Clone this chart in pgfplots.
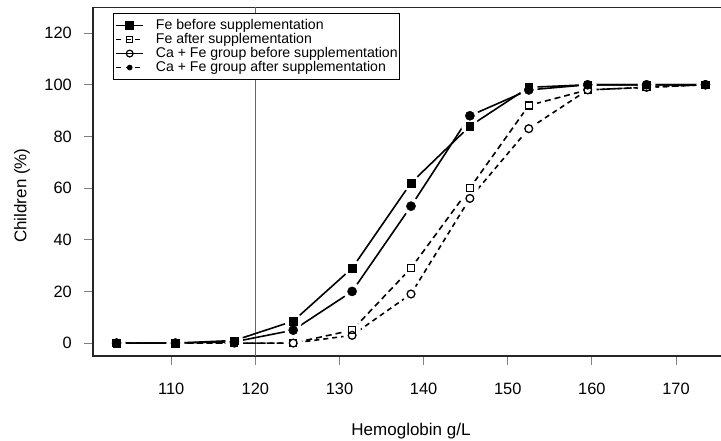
\documentclass[border=0pt]{standalone}
\usepackage{fontspec}
\setmainfont{Liberation Sans}
\usepackage{pgfplots}
\usepackage{pgfplotstable}
\pgfplotsset{compat=1.18}

% cumulative share of children below each haemoglobin level (%)
\pgfplotstableread{
x     febefore cafebefore feafter cafeafter
103.5 0        0          0       0
110.5 0        0          0       0
117.5 1        0.5        0       0
124.5 8.5      5          0       0
131.5 29       20         5       3
138.5 62       53         29      19
145.5 84       88         60      56
152.5 99       98         92      83
159.5 100      100        98      98
166.5 100      100        99      99
173.5 100      100        100     100
}\data

\begin{document}
\begin{tikzpicture}
\begin{axis}[
    name=ax,
    scale only axis,
    width=636pt, height=348.75pt,
    xmin=100.7, xmax=176.3,
    ymin=-5, ymax=130,
    xtick={110,120,...,170},
    ytick={0,20,...,120},
    tick pos=left,
    tick align=outside,
    major tick length=9pt,
    tick style={black!50, line width=1pt},
    axis line style={black!85, line width=1.2pt},
    clip=false,
    /pgf/number format/assume math mode=true,
    ticklabel style={font=\fontsize{16.4}{19}\selectfont, inner sep=0pt},
    xticklabel style={anchor=north, yshift=-18pt},
    yticklabel style={anchor=east, xshift=-12pt},
    xlabel={Hemoglobin g/L},
    ylabel={Children (\%)},
    every axis x label/.style={at={(axis description cs:0.5,0)}, anchor=base, yshift=-79pt,
        font=\fontsize{17}{20}\selectfont},
    every axis y label/.style={at={(axis description cs:0,0.46)}, xshift=-71pt, rotate=90, anchor=center,
        font=\fontsize{17}{20}\selectfont},
    legend cell align=left,
    legend image code/.code={
        \draw[#1] (0pt,0pt) -- (27pt,0pt);
        \draw[#1] plot coordinates {(13.5pt,0pt)};
    },
    legend style={
        at={(axis description cs:0,1)}, anchor=north west,
        xshift=20pt, yshift=-5.8pt,
        draw=black, line width=1pt,
        inner xsep=2pt, inner ysep=5pt,
        column sep=12pt, row sep=0pt,
        font=\fontsize{14.1}{14}\selectfont,
        nodes={inner sep=0pt, text height=10.5pt, text depth=3.5pt},
    },
]
% reference line at 120 g/L
\addplot[forget plot, black!60, line width=1pt] coordinates {(120,-5) (120,130)};

% lines
\addplot[forget plot, black, line width=1.6pt, dash pattern=on 6pt off 4pt] table[x=x, y=feafter] {\data};
\addplot[forget plot, black, line width=1.6pt, dash pattern=on 5pt off 4pt] table[x=x, y=cafeafter] {\data};
\addplot[forget plot, black, line width=1.6pt] table[x=x, y=febefore] {\data};
\addplot[forget plot, black, line width=1.6pt] table[x=x, y=cafebefore] {\data};

% white gaps round the points
\addplot[forget plot, only marks, mark=*, mark size=8.5pt, white] table[x=x, y=feafter] {\data};
\addplot[forget plot, only marks, mark=*, mark size=8.5pt, white] table[x=x, y=cafeafter] {\data};
\addplot[forget plot, only marks, mark=*, mark size=8.5pt, white] table[x=x, y=febefore] {\data};
\addplot[forget plot, only marks, mark=*, mark size=8.5pt, white] table[x=x, y=cafebefore] {\data};

% points
\addplot[forget plot, only marks, black, mark=square, mark size=3.5pt, line width=1.3pt] table[x=x, y=feafter] {\data};
\addplot[forget plot, only marks, black, mark=o, mark size=3.9pt, line width=1.3pt] table[x=x, y=cafeafter] {\data};
\addplot[forget plot, only marks, black, mark=square*, mark size=3.8pt] table[x=x, y=febefore] {\data};
\addplot[forget plot, only marks, black, mark=*, mark size=4.6pt] table[x=x, y=cafebefore] {\data};

% legend as printed in the source figure
\addlegendimage{black, line width=1.4pt, mark=square*, mark size=3.5pt, mark options={solid}}
\addlegendentry{Fe before supplementation}
\addlegendimage{black, line width=1.2pt, dash pattern=on 5pt off 4.5pt, mark=square, mark size=3.2pt, mark options={solid, line width=1pt}}
\addlegendentry{Fe after supplementation}
\addlegendimage{black, line width=1.4pt, mark=o, mark size=3.4pt, mark options={solid, fill=white, line width=1.2pt}}
\addlegendentry{Ca + Fe group before supplementation}
\addlegendimage{black, line width=1.2pt, dash pattern=on 5pt off 4.5pt, mark=*, mark size=2.2pt, mark options={solid}}
\addlegendentry{Ca + Fe group after supplementation}
\end{axis}
\pgfresetboundingbox
\path ([shift={(-93pt,-84pt)}]ax.south west) rectangle ([shift={(628pt,356pt)}]ax.south west);
\end{tikzpicture}
\end{document}
